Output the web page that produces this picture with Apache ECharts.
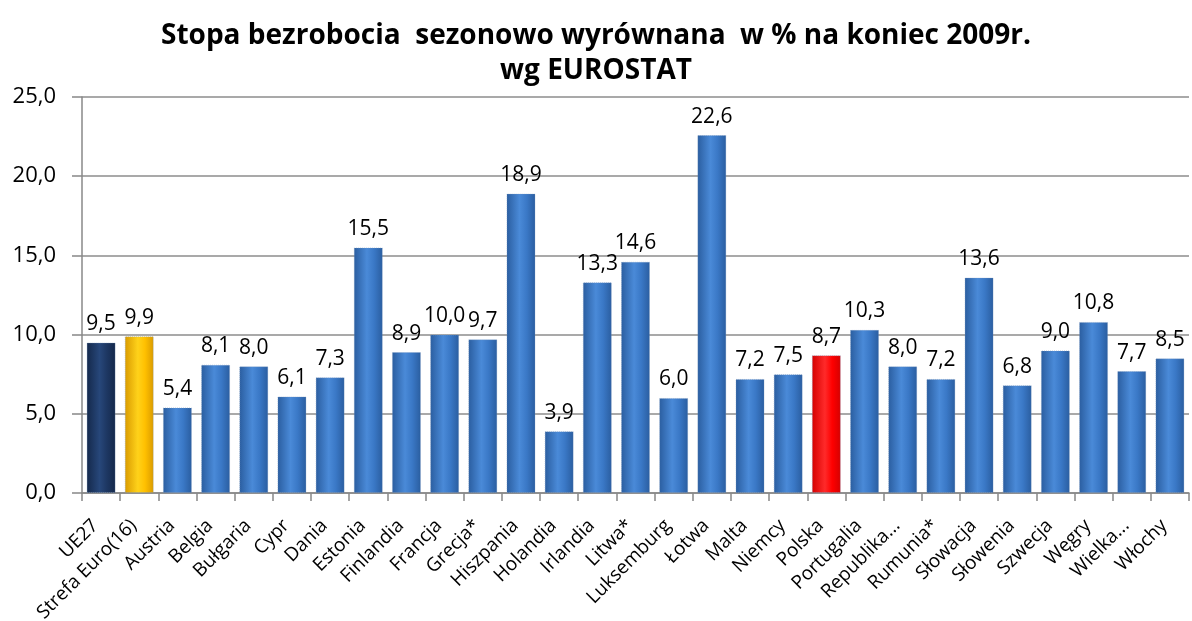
<!DOCTYPE html>
<html>
<head>
<meta charset="utf-8">
<script src="https://cdn.jsdelivr.net/npm/echarts@6/dist/echarts.min.js"></script>
<style>
  html, body { margin: 0; padding: 0; background: #fff; }
  #chart { width: 1192px; height: 621px; }
</style>
</head>
<body>
<div id="chart"></div>
<script>
const kraje = ['UE27', 'Strefa Euro(16)', 'Austria', 'Belgia', 'Bułgaria', 'Cypr', 'Dania', 'Estonia',
  'Finlandia', 'Francja', 'Grecja*', 'Hiszpania', 'Holandia', 'Irlandia', 'Litwa*', 'Luksemburg',
  'Łotwa', 'Malta', 'Niemcy', 'Polska', 'Portugalia', 'Republika...', 'Rumunia*', 'Słowacja',
  'Słowenia', 'Szwecja', 'Węgry', 'Wielka...', 'Włochy'];
const stopa = [9.5, 9.9, 5.4, 8.1, 8.0, 6.1, 7.3, 15.5, 8.9, 10.0, 9.7, 18.9, 3.9, 13.3, 14.6, 6.0,
  22.6, 7.2, 7.5, 8.7, 10.3, 8.0, 7.2, 13.6, 6.8, 9.0, 10.8, 7.7, 8.5];

const fmt = v => v.toFixed(1).replace('.', ',');

// gradient like the excel "cylinder" bars
function grad(dark, mid, light) {
  return new echarts.graphic.LinearGradient(0, 0, 1, 0, [
    { offset: 0, color: dark },
    { offset: 0.45, color: light },
    { offset: 0.7, color: mid },
    { offset: 1, color: dark }
  ]);
}
const niebieski = grad('#2a5d9f', '#3a78c6', '#4a8ad8');
const granat = grad('#14284a', '#1d3762', '#27477a');
const zolty = grad('#d99a00', '#ffc000', '#ffd21a');
const czerwony = grad('#d40000', '#ff0000', '#ff2a2a');

const dane = stopa.map((v, i) => {
  let c = niebieski;
  if (kraje[i] === 'UE27') c = granat;
  if (kraje[i] === 'Strefa Euro(16)') c = zolty;
  if (kraje[i] === 'Polska') c = czerwony;
  return { value: v, itemStyle: { color: c, borderColor: 'rgba(120,150,190,0.5)', borderWidth: 1, borderType: 'dotted' } };
});

var dom = document.getElementById('chart');
var myChart = echarts.init(dom, null, { renderer: 'canvas' });
var option = {
  animation: false,
  title: {
    text: 'Stopa bezrobocia  sezonowo wyrównana  w % na koniec 2009r.\nwg EUROSTAT',
    left: 'center',
    top: 14,
    textStyle: {
      fontFamily: 'Open Sans',
      fontWeight: 'bold',
      fontSize: 28,
      lineHeight: 35,
      color: '#000'
    }
  },
  grid: { left: 82, right: 3, top: 97, bottom: 128, outerBoundsMode: 'none' },
  xAxis: {
    type: 'category',
    data: kraje,
    axisLine: { lineStyle: { color: '#888', width: 1.5 } },
    axisTick: { show: true, length: 8, lineStyle: { color: '#888', width: 1.5 } },
    axisLabel: {
      interval: 0,
      rotate: 45,
      fontFamily: 'Open Sans',
      fontSize: 19,
      color: '#000',
      margin: 24,
      padding: [0, 8, 0, 0]
    }
  },
  yAxis: {
    type: 'value',
    min: 0,
    max: 25,
    interval: 5,
    axisLine: { show: true, lineStyle: { color: '#888', width: 1.5 } },
    axisTick: { show: true, length: 10, lineStyle: { color: '#888', width: 1.5 } },
    splitLine: { lineStyle: { color: '#8c8c8c', width: 1.5 } },
    axisLabel: {
      formatter: v => fmt(v),
      fontFamily: 'Open Sans',
      fontSize: 22,
      color: '#000',
      margin: 26
    }
  },
  series: [{
    type: 'bar',
    data: dane,
    barWidth: '76%',
    label: {
      show: true,
      position: 'top',
      distance: 8,
      formatter: p => fmt(p.value),
      fontFamily: 'Open Sans',
      fontSize: 21,
      color: '#000'
    }
  }]
};
option && myChart.setOption(option);
</script>
</body>
</html>
